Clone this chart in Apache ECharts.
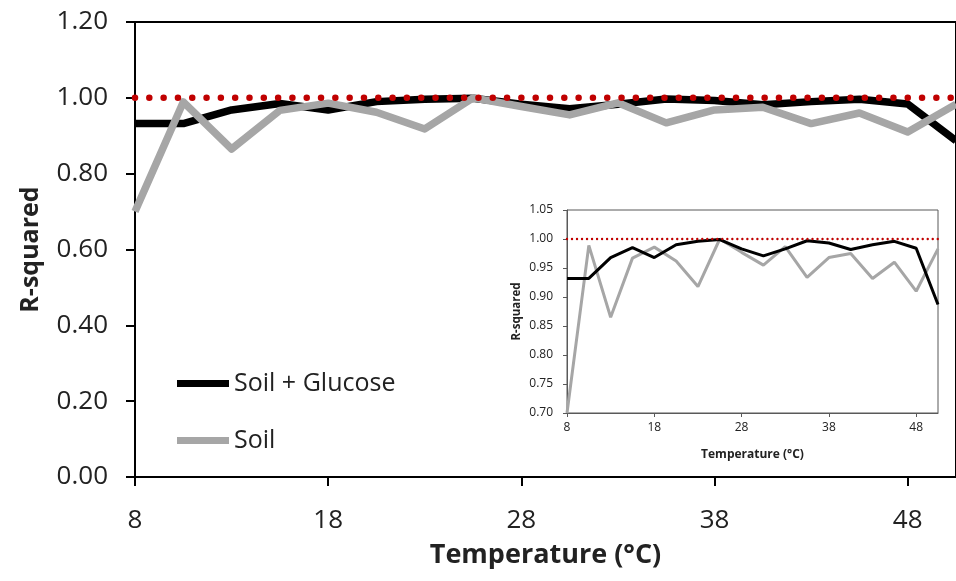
<!DOCTYPE html>
<html>
<head>
<meta charset="utf-8">
<script src="https://cdn.jsdelivr.net/npm/echarts@6/dist/echarts.min.js"></script>
<style>
  html, body { margin: 0; padding: 0; background: #fff; }
  #container { width: 956px; height: 581px; }
</style>
</head>
<body>
<div id="container"></div>
<script>
// temperatures (category axis, every 4th labelled like in the excel chart)
var temps = ['8', '10.5', '13', '15.5', '18', '20.5', '23', '25.5', '28', '30.5',
             '33', '35.5', '38', '40.5', '43', '45.5', '48', '50.5'];
var soilGlucose = [0.932, 0.932, 0.968, 0.985, 0.968, 0.990, 0.996, 0.999, 0.983, 0.971,
                   0.983, 0.997, 0.993, 0.982, 0.990, 0.996, 0.984, 0.887];
var soil = [0.700, 0.989, 0.865, 0.967, 0.986, 0.962, 0.918, 1.000, 0.977, 0.955,
            0.987, 0.934, 0.968, 0.975, 0.932, 0.960, 0.910, 0.983];
var perfect = temps.map(function () { return 1.0; });
var mainTicks = [0, 0.2, 0.4, 0.6, 0.8, 1.0, 1.2];
var insetTicks = [0.70, 0.75, 0.80, 0.85, 0.90, 0.95, 1.00, 1.05];

var font = '"Open Sans", "Liberation Sans", sans-serif';
var chart = echarts.init(document.getElementById('container'));

var option = {
    backgroundColor: '#fff',
    animation: false,
    legend: {
        data: ['Soil + Glucose', 'Soil'],
        orient: 'vertical',
        left: 172,
        top: 366,
        icon: 'rect',
        itemWidth: 52,
        itemHeight: 7,
        itemGap: 32,
        textStyle: { fontFamily: font, fontSize: 25, color: '#222' }
    },
    grid: [
        { left: 135, top: 22, right: -5, bottom: 104, show: true, borderColor: '#000', borderWidth: 2 },
        { left: 567, top: 210, width: 371, height: 203, show: true, borderColor: '#595959', borderWidth: 1, backgroundColor: '#fff', z: 5 }
    ],
    xAxis: [
        {
            gridIndex: 0, type: 'category', data: temps, boundaryGap: false,
            name: 'Temperature (°C)', nameLocation: 'middle', nameGap: 65,
            nameTextStyle: { fontFamily: font, fontSize: 27, fontWeight: 'bold', color: '#222' },
            axisLine: { lineStyle: { color: '#000', width: 2 } },
            axisTick: { interval: 3, length: 9, lineStyle: { color: '#000', width: 2 } },
            axisLabel: { interval: 3, margin: 31, fontFamily: font, fontSize: 26, color: '#222' },
            splitLine: { show: false }
        },
        {
            gridIndex: 1, type: 'category', data: temps, boundaryGap: false,
            name: 'Temperature (°C)', nameLocation: 'middle', nameGap: 36,
            nameTextStyle: { fontFamily: font, fontSize: 12, fontWeight: 'bold', color: '#222' },
            axisLine: { lineStyle: { color: '#595959', width: 1 } },
            axisTick: { interval: 3, length: 4, lineStyle: { color: '#595959' } },
            axisLabel: { interval: 3, margin: 9, fontFamily: font, fontSize: 12, color: '#222' },
            splitLine: { show: false },
            z: 6
        }
    ],
    yAxis: [
        {
            gridIndex: 0, type: 'value', min: mainTicks[0], max: mainTicks[mainTicks.length - 1], interval: 0.2,
            name: 'R-squared', nameLocation: 'middle', nameGap: 92,
            nameTextStyle: { fontFamily: font, fontSize: 25, fontWeight: 'bold', color: '#222' },
            axisLine: { show: true, lineStyle: { color: '#000', width: 2 } },
            axisTick: { show: true, length: 9, lineStyle: { color: '#000', width: 2 } },
            axisLabel: { margin: 27, fontFamily: font, fontSize: 26, color: '#222',
                         formatter: function (v) { return v.toFixed(2); } },
            splitLine: { show: false }
        },
        {
            gridIndex: 1, type: 'value', min: insetTicks[0], max: insetTicks[insetTicks.length - 1], interval: 0.05,
            name: 'R-squared', nameLocation: 'middle', nameGap: 44,
            nameTextStyle: { fontFamily: font, fontSize: 11.5, fontWeight: 'bold', color: '#222' },
            axisLine: { show: true, lineStyle: { color: '#595959', width: 1 } },
            axisTick: { show: true, length: 4, lineStyle: { color: '#595959' } },
            axisLabel: { margin: 14, fontFamily: font, fontSize: 12, color: '#222',
                         formatter: function (v) { return v.toFixed(2); } },
            splitLine: { show: false },
            z: 6
        }
    ],
    series: [
        {
            name: 'perfect', type: 'line', xAxisIndex: 0, yAxisIndex: 0, data: perfect,
            symbol: 'none', silent: true, z: 3,
            lineStyle: { color: '#c00000', width: 6.5, type: [0.01, 14.3], cap: 'round' }
        },
        {
            name: 'Soil + Glucose', type: 'line', xAxisIndex: 0, yAxisIndex: 0, data: soilGlucose,
            symbol: 'none', z: 2, itemStyle: { color: '#000' },
            lineStyle: { color: '#000', width: 7.5, join: 'round' }
        },
        {
            name: 'Soil', type: 'line', xAxisIndex: 0, yAxisIndex: 0, data: soil,
            symbol: 'none', z: 2, itemStyle: { color: '#a6a6a6' },
            lineStyle: { color: '#a6a6a6', width: 7.5, join: 'round' }
        },
        {
            name: 'perfect', type: 'line', xAxisIndex: 1, yAxisIndex: 1, data: perfect,
            symbol: 'none', silent: true, z: 9,
            lineStyle: { color: '#c00000', width: 2.4, type: [0.01, 5], cap: 'round' }
        },
        {
            name: 'Soil + Glucose', type: 'line', xAxisIndex: 1, yAxisIndex: 1, data: soilGlucose,
            symbol: 'none', z: 8, clip: true,
            lineStyle: { color: '#000', width: 3 }
        },
        {
            name: 'Soil', type: 'line', xAxisIndex: 1, yAxisIndex: 1, data: soil,
            symbol: 'none', z: 7, clip: true,
            lineStyle: { color: '#a6a6a6', width: 3 }
        }
    ]
};

chart.setOption(option);
</script>
</body>
</html>
